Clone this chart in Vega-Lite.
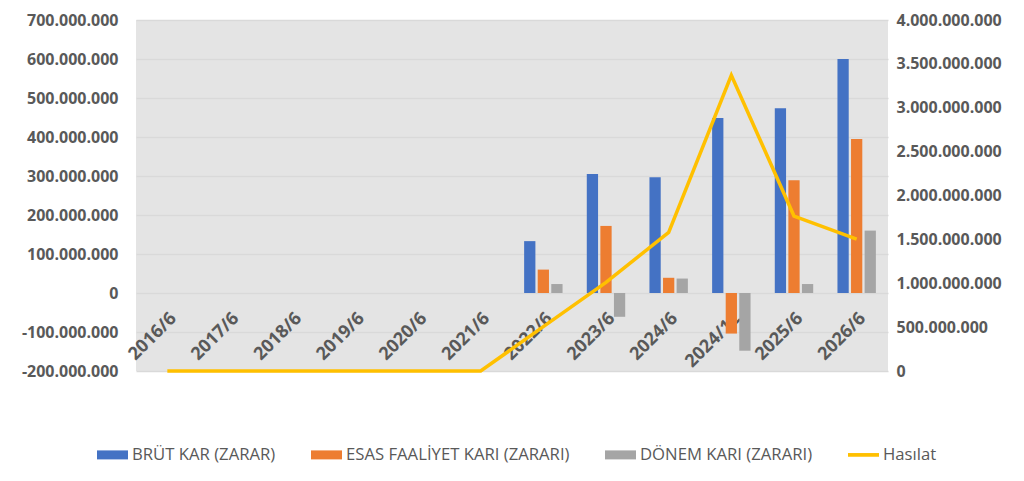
{
  "$schema": "https://vega.github.io/schema/vega-lite/v6.json",
  "width": 752,
  "height": 351,
  "autosize": "none",
  "padding": {"left": 136, "top": 20, "right": 136, "bottom": 110},
  "background": "white",
  "config": {
    "locale": {"number": {"decimal": ",", "thousands": ".", "grouping": [3], "currency": ["", " TL"], "minus": "-"}},
    "view": {"fill": "#E4E4E4", "stroke": null},
    "font": "Open Sans"
  },
  "datasets": {
    "bars": [
      {"period": "2022/6", "series": "BRÜT KAR (ZARAR)", "value": 133000000},
      {"period": "2022/6", "series": "ESAS FAALİYET KARI (ZARARI)", "value": 60000000},
      {"period": "2022/6", "series": "DÖNEM KARI (ZARARI)", "value": 23000000},
      {"period": "2023/6", "series": "BRÜT KAR (ZARAR)", "value": 305000000},
      {"period": "2023/6", "series": "ESAS FAALİYET KARI (ZARARI)", "value": 172000000},
      {"period": "2023/6", "series": "DÖNEM KARI (ZARARI)", "value": -61000000},
      {"period": "2024/6", "series": "BRÜT KAR (ZARAR)", "value": 297000000},
      {"period": "2024/6", "series": "ESAS FAALİYET KARI (ZARARI)", "value": 39000000},
      {"period": "2024/6", "series": "DÖNEM KARI (ZARARI)", "value": 37000000},
      {"period": "2024/12", "series": "BRÜT KAR (ZARAR)", "value": 449000000},
      {"period": "2024/12", "series": "ESAS FAALİYET KARI (ZARARI)", "value": -104000000},
      {"period": "2024/12", "series": "DÖNEM KARI (ZARARI)", "value": -148000000},
      {"period": "2025/6", "series": "BRÜT KAR (ZARAR)", "value": 474000000},
      {"period": "2025/6", "series": "ESAS FAALİYET KARI (ZARARI)", "value": 289000000},
      {"period": "2025/6", "series": "DÖNEM KARI (ZARARI)", "value": 23000000},
      {"period": "2026/6", "series": "BRÜT KAR (ZARAR)", "value": 600000000},
      {"period": "2026/6", "series": "ESAS FAALİYET KARI (ZARARI)", "value": 395000000},
      {"period": "2026/6", "series": "DÖNEM KARI (ZARARI)", "value": 160000000}
    ],
    "line": [
      {"period": "2016/6", "hasilat": 0},
      {"period": "2017/6", "hasilat": 0},
      {"period": "2018/6", "hasilat": 0},
      {"period": "2019/6", "hasilat": 0},
      {"period": "2020/6", "hasilat": 0},
      {"period": "2021/6", "hasilat": 0},
      {"period": "2022/6", "hasilat": 505000000},
      {"period": "2023/6", "hasilat": 1010000000},
      {"period": "2024/6", "hasilat": 1580000000},
      {"period": "2024/12", "hasilat": 3370000000},
      {"period": "2025/6", "hasilat": 1766000000},
      {"period": "2026/6", "hasilat": 1504000000}
    ]
  },
  "layer": [
    {
      "data": {"name": "bars"},
      "mark": {"type": "bar"},
      "encoding": {
        "x": {
          "field": "period",
          "type": "nominal",
          "scale": {
            "domain": ["2016/6", "2017/6", "2018/6", "2019/6", "2020/6", "2021/6", "2022/6", "2023/6", "2024/6", "2024/12", "2025/6", "2026/6"],
            "paddingInner": 0.387,
            "paddingOuter": 0.1935
          },
          "axis": {
            "title": null,
            "orient": "bottom",
            "offset": -78,
            "domain": false,
            "ticks": false,
            "labelAngle": -45,
            "labelAlign": "right",
            "labelBaseline": "top",
            "labelPadding": 16,
            "labelDx": -3.5,
            "labelDy": -3.5,
            "labelFont": "Open Sans",
            "labelFontSize": 18,
            "labelFontWeight": "bold",
            "labelColor": "#595959"
          }
        },
        "xOffset": {
          "field": "series",
          "type": "nominal",
          "scale": {"domain": ["BRÜT KAR (ZARAR)", "ESAS FAALİYET KARI (ZARARI)", "DÖNEM KARI (ZARARI)"], "paddingInner": 0.17}
        },
        "y": {
          "field": "value",
          "type": "quantitative",
          "scale": {"domain": [-200000000, 700000000], "nice": false, "zero": false},
          "axis": {
            "title": null,
            "values": [-200000000, -100000000, 0, 100000000, 200000000, 300000000, 400000000, 500000000, 600000000, 700000000],
            "format": ",d",
            "domain": false,
            "ticks": false,
            "grid": true,
            "gridColor": "#D9D9D9",
            "gridWidth": 1.3,
            "labelPadding": 18,
            "labelFont": "Open Sans",
            "labelFontSize": 16,
            "labelFontWeight": "bold",
            "labelColor": "#595959"
          }
        },
        "color": {
          "field": "series",
          "type": "nominal",
          "scale": {
            "domain": ["BRÜT KAR (ZARAR)", "ESAS FAALİYET KARI (ZARARI)", "DÖNEM KARI (ZARARI)", "Hasılat"],
            "range": ["#4472C4", "#ED7D31", "#A5A5A5", "#FFC000"]
          },
          "legend": {
            "title": null,
            "orient": "none",
            "direction": "horizontal",
            "legendX": -39,
            "legendY": 419,
            "symbolSize": 961,
            "labelOffset": 4,
            "columnPadding": 35,
            "labelFont": "Open Sans",
            "labelFontSize": 16.7,
            "labelColor": "#595959",
            "labelLimit": 0,
            "encode": {
              "symbols": {
                "update": {
                  "shape": {"signal": "datum.label == 'Hasılat' ? 'M-1,-0.12H1V0.12H-1Z' : 'M-1,-0.29H1V0.29H-1Z'"},
                  "fill": {"scale": "color", "field": "value"},
                  "strokeWidth": {"value": 0},
                  "opacity": {"value": 1}
                }
              }
            }
          }
        }
      }
    },
    {
      "data": {"name": "line"},
      "mark": {"type": "line", "strokeWidth": 3.5, "strokeJoin": "miter"},
      "encoding": {
        "x": {"field": "period", "type": "nominal"},
        "y": {
          "field": "hasilat",
          "type": "quantitative",
          "scale": {"domain": [0, 4000000000], "nice": false},
          "axis": {
            "title": null,
            "orient": "right",
            "values": [0, 500000000, 1000000000, 1500000000, 2000000000, 2500000000, 3000000000, 3500000000, 4000000000],
            "format": ",d",
            "domain": false,
            "ticks": false,
            "grid": false,
            "labelPadding": 8,
            "labelFont": "Open Sans",
            "labelFontSize": 16,
            "labelFontWeight": "bold",
            "labelColor": "#595959"
          }
        },
        "color": {"datum": "Hasılat"}
      }
    }
  ],
  "resolve": {"scale": {"y": "independent"}}
}
